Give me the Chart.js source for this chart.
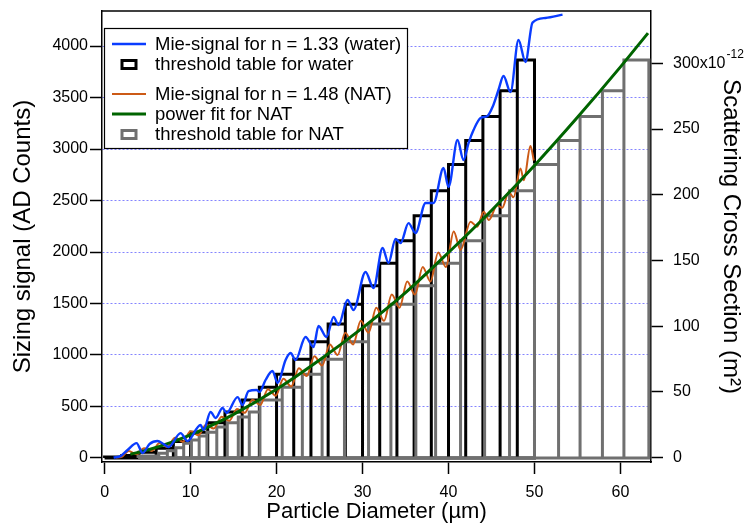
<!DOCTYPE html>
<html>
<head>
<meta charset="utf-8">
<script src="https://cdn.jsdelivr.net/npm/chart.js@4.4.1/dist/chart.umd.min.js"></script>
<style>
  html, body { margin: 0; padding: 0; background: #fff; }
</style>
</head>
<body>
<canvas id="mieChart" width="755" height="525"></canvas>
<script>
// Mie signal for water droplets (n = 1.33): diameter in µm, cross section in 1e-12 m²
const waterDiam = [1.05, 1.86, 2.67, 3.72, 4.42, 5.23, 6.16, 6.86, 7.44, 8.84, 9.65, 11.16, 11.51, 12.33, 12.91, 13.72, 14.19, 15.47, 16.05, 16.74, 17.67, 18.02, 18.72, 19.53, 20.12, 21.05, 21.63, 22.21, 23.37, 24.3, 24.88, 25.81, 26.63, 27.21, 28.26, 28.95, 30.35, 31.28, 32.33, 33.02, 33.84, 34.42, 35.35, 36.16, 37.33, 38.26, 39.42, 40.0, 41.05, 41.74, 42.33, 42.91, 43.72, 44.53, 45.12, 45.81, 46.4, 47.21, 48.14, 48.95, 49.77, 51.28, 53.26]
const waterSignal = [0, 1.1, 5.7, 11.0, 3.4, 10.3, 12.6, 10.3, 8.0, 18.6, 12.6, 24.7, 20.9, 34.6, 30.1, 37.7, 33.9, 46.0, 40.0, 50.6, 51.4, 49.8, 59.0, 65.8, 56.7, 74.2, 79.5, 74.2, 91.7, 84.1, 100.1, 91.7, 106.9, 100.8, 119.9, 112.3, 141.2, 129.0, 159.4, 148.0, 166.3, 163.2, 178.4, 170.8, 193.7, 193.7, 220.3, 205.9, 241.6, 226.4, 239.3, 249.2, 258.4, 259.9, 266.7, 279.7, 290.3, 278.1, 317.7, 301.0, 331.0, 334.5, 337.0]

// Mie signal for NAT (n = 1.48)
const natDiam = [1.3, 2.0, 2.8, 3.7, 4.6, 5.5, 6.4, 7.3, 8.2, 9.1, 10.0, 10.9, 11.8, 12.7, 13.6, 14.5, 15.4, 16.3, 17.2, 18.1, 19.0, 19.9, 20.8, 21.7, 22.6, 23.5, 24.4, 25.3, 26.2, 27.1, 28.0, 28.9, 29.8, 30.7, 31.6, 32.5, 33.4, 34.3, 35.2, 36.1, 37.0, 37.9, 38.8, 39.7, 40.6, 41.4, 42.56, 43.33, 44.1, 44.69, 45.66, 46.24, 47.01, 47.56, 48.37, 48.76, 49.53, 49.92]
const natSignal = [0, 0.5, 5, 2.5, 7, 5, 11, 8, 15, 12, 20, 17, 25, 22, 31, 28, 37, 34, 44, 40, 52, 47, 60, 54, 68, 62, 77, 70, 86, 78, 95, 86, 104, 95, 114, 104, 124, 114, 134, 124, 145, 134, 156, 145, 172, 158, 179.5, 175.6, 187, 180.7, 192, 190, 202, 198, 220, 211, 237, 226]

// power fit for NAT
const fitDiam = [3, 5, 8, 11, 15, 20, 25, 30, 35, 40, 45, 50, 55, 60, 63.2]
const fitSignal = [2.5, 5.7, 12.1, 20.1, 32.8, 51.9, 74.2, 98.7, 125.5, 156, 188, 222.3, 258.9, 297.3, 323]

// threshold tables: bin edges (µm) and thresholds (AD counts)
const waterEdges = [0, 2, 4, 6, 8, 10, 12, 14, 16, 18, 20, 22, 24, 26, 28, 30, 32, 34, 36, 38, 40, 42, 44, 46, 48, 50]
const waterThresh = [10, 25, 55, 95, 160, 250, 343, 447, 563, 686, 812, 958, 1129, 1301, 1492, 1673, 1890, 2110, 2352, 2595, 2850, 3083, 3315, 3566, 3864]
const natEdges = [3.9, 6.3, 7.3, 8.3, 9.2, 10.1, 11.0, 11.9, 13.05, 14.27, 15.55, 16.83, 18.07, 20.66, 23.0, 25.3, 27.9, 30.7, 33.3, 36.2, 38.5, 41.4, 44.2, 47.1, 50.0, 52.8, 55.3, 57.9, 60.4, 63.3]
const natThresh = [19, 46, 71, 100, 143, 175, 214, 250, 300, 343, 398, 447, 563, 686, 812, 958, 1129, 1301, 1492, 1673, 1890, 2110, 2352, 2595, 2850, 3083, 3315, 3566, 3864]

const leftTicks = [0, 500, 1000, 1500, 2000, 2500, 3000, 3500, 4000]
const rightTicks = [0, 50, 100, 150, 200, 250, 300]

const FONT = "'Liberation Sans', Arial, Helvetica, sans-serif"
const BLUE = "#0a3cff"
const ORANGE = "#cc5a16"
const GREEN = "#006400"
const GREY = "#707070"

const toPoints = (xs, ys) => xs.map((x, i) => ({ x: x, y: ys[i] }))

// outline of histogram bars (open boxes) from edges + heights, closed along the baseline
function barOutline(edges, heights) {
  const pts = [{ x: edges[0], y: 0 }]
  heights.forEach((h, i) => {
    pts.push({ x: edges[i], y: h })
    pts.push({ x: edges[i + 1], y: h })
    pts.push({ x: edges[i + 1], y: 0 })
  })
  pts.push({ x: edges[0], y: 0 })
  return pts
}

// fixed box sizes so the plot frame lands where it should
function fixBox(size) {
  return (s) => {
    if (s.isHorizontal()) s.height = size
    else s.width = size
    s.paddingTop = 0
    s.paddingBottom = 0
    s.paddingLeft = 0
    s.paddingRight = 0
  }
}

// legend in a white box, upper left
const legendRows = [
  { ds: 0, y: 44 },
  { ds: 3, y: 64 },
  { ds: 1, y: 94 },
  { ds: 2, y: 114 },
  { ds: 4, y: 134 },
]
const legendBox = {
  id: "legendBox",
  afterDraw(chart) {
    const ctx = chart.ctx
    ctx.save()
    ctx.fillStyle = "#fff"
    ctx.fillRect(104, 28, 303, 120)
    ctx.strokeStyle = "#000"
    ctx.lineWidth = 1.2
    ctx.strokeRect(104.5, 28.5, 303, 120)
    legendRows.forEach((row) => {
      const ds = chart.data.datasets[row.ds]
      ctx.strokeStyle = ds.borderColor
      if (ds.isBars) {
        ctx.lineWidth = 3
        ctx.strokeRect(122, row.y - 3.5, 14, 8)
      } else {
        ctx.lineWidth = ds.borderWidth
        ctx.beginPath()
        ctx.moveTo(112, row.y)
        ctx.lineTo(146, row.y)
        ctx.stroke()
      }
      ctx.fillStyle = "#000"
      ctx.font = "18.5px " + FONT
      ctx.textBaseline = "middle"
      ctx.fillText(ds.label, 155, row.y + 1)
    })
    ctx.restore()
  },
}

// box frame and the 10^-12 exponent on the right axis
const frameAndExponent = {
  id: "frameAndExponent",
  afterDraw(chart) {
    const ctx = chart.ctx
    const a = chart.chartArea
    ctx.save()
    ctx.strokeStyle = "#000"
    ctx.lineWidth = 1.5
    ctx.beginPath()
    ctx.moveTo(a.left, a.top)
    ctx.lineTo(a.right, a.top)
    ctx.stroke()
    const s = chart.scales.y2
    const y = s.getPixelForValue(300)
    ctx.font = "16px " + FONT
    const w = ctx.measureText("300x10").width
    ctx.font = "12px " + FONT
    ctx.fillStyle = "#000"
    ctx.textBaseline = "middle"
    ctx.fillText("-12", a.right + 22 + w + 1, y - 9)
    ctx.restore()
  },
}

const tickFont = { family: FONT, size: 16 }

new Chart(document.getElementById("mieChart"), {
  type: "line",
  data: {
    datasets: [
      {
        label: "Mie-signal for n = 1.33 (water)",
        data: toPoints(waterDiam, waterSignal),
        yAxisID: "y2",
        borderColor: BLUE,
        borderWidth: 2.4,
        cubicInterpolationMode: "monotone",
        order: 1,
      },
      {
        label: "Mie-signal for n = 1.48 (NAT)",
        data: toPoints(natDiam, natSignal),
        yAxisID: "y2",
        borderColor: ORANGE,
        borderWidth: 2,
        cubicInterpolationMode: "monotone",
        order: 3,
      },
      {
        label: "power fit for NAT",
        data: toPoints(fitDiam, fitSignal),
        yAxisID: "y2",
        borderColor: GREEN,
        borderWidth: 3,
        cubicInterpolationMode: "monotone",
        order: 2,
      },
      {
        label: "threshold table for water",
        data: barOutline(waterEdges, waterThresh),
        yAxisID: "y",
        borderColor: "#000",
        borderWidth: 3,
        tension: 0,
        isBars: true,
        order: 5,
      },
      {
        label: "threshold table for NAT",
        data: barOutline(natEdges, natThresh),
        yAxisID: "y",
        borderColor: GREY,
        borderWidth: 3,
        tension: 0,
        isBars: true,
        order: 4,
      },
    ],
  },
  options: {
    responsive: false,
    animation: false,
    devicePixelRatio: 1,
    layout: { padding: { top: 11, left: 0, right: 0, bottom: 0 } },
    elements: {
      point: { radius: 0 },
      line: { fill: false, borderJoinStyle: "miter", borderCapStyle: "butt" },
    },
    plugins: {
      legend: { display: false },
      tooltip: { enabled: false },
    },
    scales: {
      x: {
        type: "linear",
        min: -0.3,
        max: 63.55,
        afterFit: fixBox(63),
        ticks: {
          stepSize: 10,
          includeBounds: false,
          autoSkip: false,
          maxRotation: 0,
          padding: 9,
          color: "#000",
          font: tickFont,
          callback: (v) => String(v),
        },
        grid: { drawOnChartArea: false, tickLength: 12, tickColor: "#000", tickWidth: 1.5 },
        border: { color: "#000", width: 1.5 },
        title: {
          display: true,
          text: "Particle Diameter (µm)",
          color: "#000",
          font: { family: FONT, size: 22 },
          padding: { top: 0, bottom: 0 },
        },
      },
      y: {
        position: "left",
        min: -39,
        max: 4340,
        afterFit: fixBox(102),
        afterBuildTicks: (s) => { s.ticks = leftTicks.map((v) => ({ value: v })) },
        ticks: {
          autoSkip: false,
          padding: 2,
          color: "#000",
          font: tickFont,
          callback: (v) => String(v),
        },
        grid: {
          color: (c) => (c.tick && c.tick.value === 0 ? "rgba(0,0,0,0)" : "#8484ff"),
          lineWidth: 1,
          tickLength: 12,
          tickColor: "#000",
          tickWidth: 1.5,
        },
        border: { color: "#000", width: 1.5, dash: [2, 2] },
        title: {
          display: true,
          text: "Sizing signal (AD Counts)",
          color: "#000",
          font: { family: FONT, size: 24 },
          padding: { top: 9, bottom: 0 },
        },
      },
      y2: {
        position: "right",
        min: -3.4,
        max: 339.8,
        afterFit: fixBox(104),
        afterBuildTicks: (s) => { s.ticks = rightTicks.map((v) => ({ value: v })) },
        ticks: {
          autoSkip: false,
          padding: 10,
          color: "#000",
          font: tickFont,
          callback: (v) => (v === 300 ? "300x10" : String(v)),
        },
        grid: { drawOnChartArea: false, tickLength: 12, tickColor: "#000", tickWidth: 1.5 },
        border: { color: "#000", width: 1.5 },
        title: {
          display: true,
          text: "Scattering Cross Section (m²)",
          color: "#000",
          font: { family: FONT, size: 24 },
          padding: { top: 10, bottom: 0 },
        },
      },
    },
  },
  plugins: [frameAndExponent, legendBox],
})
</script>
</body>
</html>
